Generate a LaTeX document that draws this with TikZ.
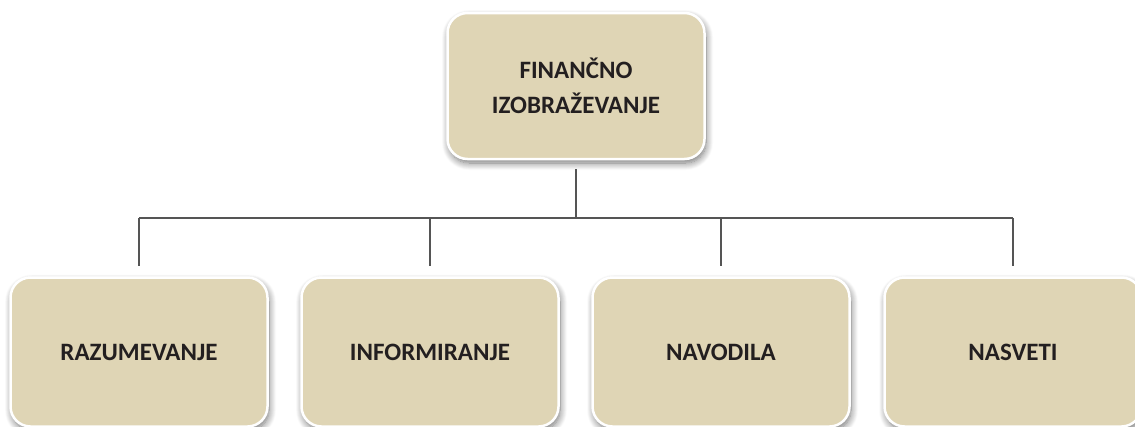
\documentclass[tikz,border=0pt]{standalone}
\usepackage{fontspec}
\setmainfont{Carlito}
\usetikzlibrary{shadows.blur}
\definecolor{boxfill}{RGB}{223,213,181}
\definecolor{linec}{RGB}{85,85,85}
\definecolor{txt}{RGB}{35,31,32}
\begin{document}
\begin{tikzpicture}[x=1pt,y=-1pt,
  box/.style={draw=white, line width=2.5pt, fill=boxfill, rounded corners=20pt,
    minimum width=257pt, minimum height=146pt, align=center,
    font=\bfseries\fontsize{25}{35}\selectfont, text=txt,
    blur shadow={shadow xshift=1.5pt, shadow yshift=-4pt, shadow blur steps=10,
      shadow blur radius=7pt, shadow opacity=55}},
  conn/.style={draw=linec, line width=1.3pt}]
\path[use as bounding box] (0,0) rectangle (1135,426);
\node[box] (top) at (576,86) {FINANČNO\\IZOBRAŽEVANJE};
\node[box, minimum height=149pt] (b1) at (139,352) {RAZUMEVANJE};
\node[box, minimum height=149pt] (b2) at (430,352) {INFORMIRANJE};
\node[box, minimum height=149pt] (b3) at (721,352) {NAVODILA};
\node[box, minimum height=149pt] (b4) at (1013,352) {NASVETI};
\coordinate (h) at (0,218);
\draw[conn] ([yshift=-9pt]top.south) -- (top.south |- h);
\draw[conn] (b1.north |- h) -- (b4.north |- h);
\foreach \b in {b1,b2,b3,b4}
  \draw[conn] (\b.north |- h) -- ([yshift=10pt]\b.north);
\end{tikzpicture}
\end{document}
